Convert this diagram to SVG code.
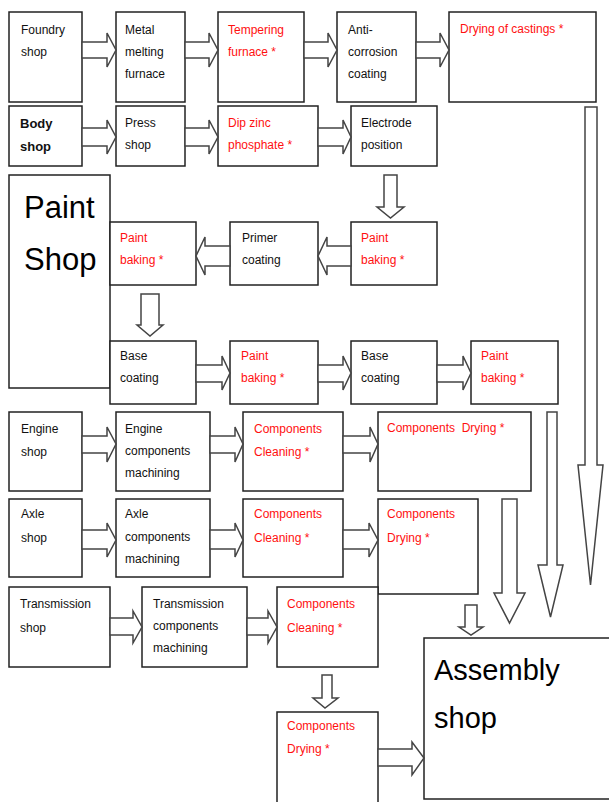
<svg xmlns="http://www.w3.org/2000/svg" width="609" height="802" viewBox="0 0 609 802">
<style>
.b{fill:#fff;stroke:#222;stroke-width:1.5}
.a{fill:#fff;stroke:#444;stroke-width:1.5;stroke-linejoin:miter}
text{font-family:"Liberation Sans",Arial,sans-serif;font-size:12px;fill:#111}
.r{fill:#ff1010}
.bd{font-weight:bold;font-size:13px}
.big{font-size:31px;fill:#000}
.big2{font-size:29px;fill:#000}
</style>
<rect width="609" height="802" fill="#fff"/>
<g id="foundry"><rect class="b" x="9" y="12" width="73" height="90"/><text x="21" y="34">Foundry</text><text x="21" y="56">shop</text></g>
<g id="metal"><rect class="b" x="116" y="12" width="69" height="90"/><text x="125" y="34">Metal</text><text x="125" y="56">melting</text><text x="125" y="78">furnace</text></g>
<g id="tempering"><rect class="b" x="218" y="12" width="86" height="90"/><text class="r" x="228" y="34">Tempering</text><text class="r" x="228" y="56">furnace *</text></g>
<g id="anticorrosion"><rect class="b" x="337" y="12" width="79" height="90"/><text x="348" y="34">Anti-</text><text x="348" y="56">corrosion</text><text x="348" y="78">coating</text></g>
<g id="drycast"><rect class="b" x="449" y="12" width="147" height="90"/><text class="r" x="460" y="33">Drying of castings  *</text></g>
<g id="body"><rect class="b" x="9" y="106" width="73" height="60"/><text class="bd" x="20" y="128">Body</text><text class="bd" x="20" y="151">shop</text></g>
<g id="press"><rect class="b" x="116" y="106" width="69" height="60"/><text x="125" y="127">Press</text><text x="125" y="149">shop</text></g>
<g id="dipzinc"><rect class="b" x="218" y="106" width="100" height="60"/><text class="r" x="228" y="127">Dip zinc</text><text class="r" x="228" y="149">phosphate  *</text></g>
<g id="electrode"><rect class="b" x="351" y="106" width="86" height="60"/><text x="361" y="127">Electrode</text><text x="361" y="149">position</text></g>
<g id="paintshop"><rect class="b" x="9" y="175" width="101" height="213"/><text class="big" x="24" y="218">Paint</text><text class="big" x="24" y="270">Shop</text></g>
<g id="paintbake1"><rect class="b" x="110" y="222" width="86" height="63"/><text class="r" x="120" y="242">Paint</text><text class="r" x="120" y="264">baking *</text></g>
<g id="primer"><rect class="b" x="230" y="222" width="88" height="63"/><text x="242" y="242">Primer</text><text x="242" y="264">coating</text></g>
<g id="paintbake2"><rect class="b" x="351" y="222" width="86" height="63"/><text class="r" x="361" y="242">Paint</text><text class="r" x="361" y="264">baking *</text></g>
<g id="base1"><rect class="b" x="110" y="341" width="86" height="63"/><text x="120" y="360">Base</text><text x="120" y="382">coating</text></g>
<g id="paintbake3"><rect class="b" x="230" y="341" width="88" height="63"/><text class="r" x="241" y="360">Paint</text><text class="r" x="241" y="382">baking *</text></g>
<g id="base2"><rect class="b" x="351" y="341" width="86" height="63"/><text x="361" y="360">Base</text><text x="361" y="382">coating</text></g>
<g id="paintbake4"><rect class="b" x="471" y="341" width="87" height="63"/><text class="r" x="481" y="360">Paint</text><text class="r" x="481" y="382">baking *</text></g>
<g id="engine"><rect class="b" x="9" y="412" width="73" height="79"/><text x="21" y="433">Engine</text><text x="21" y="456">shop</text></g>
<g id="enginemach"><rect class="b" x="116" y="412" width="94" height="79"/><text x="125" y="433">Engine</text><text x="125" y="455">components</text><text x="125" y="477">machining</text></g>
<g id="engineclean"><rect class="b" x="243" y="412" width="100" height="79"/><text class="r" x="254" y="433">Components</text><text class="r" x="254" y="456">Cleaning  *</text></g>
<g id="enginedry"><rect class="b" x="378" y="412" width="153" height="79"/><text class="r" x="387" y="432" xml:space="preserve">Components  Drying *</text></g>
<g id="axle"><rect class="b" x="9" y="499" width="73" height="78"/><text x="21" y="518">Axle</text><text x="21" y="542">shop</text></g>
<g id="axlemach"><rect class="b" x="116" y="499" width="94" height="78"/><text x="125" y="518">Axle</text><text x="125" y="541">components</text><text x="125" y="563">machining</text></g>
<g id="axleclean"><rect class="b" x="243" y="499" width="100" height="78"/><text class="r" x="254" y="518">Components</text><text class="r" x="254" y="542">Cleaning  *</text></g>
<g id="axledry"><rect class="b" x="378" y="499" width="100" height="95"/><text class="r" x="387" y="518">Components</text><text class="r" x="387" y="542">Drying *</text></g>
<g id="trans"><rect class="b" x="9" y="587" width="101" height="80"/><text x="20" y="608">Transmission</text><text x="20" y="632">shop</text></g>
<g id="transmach"><rect class="b" x="142" y="587" width="105" height="80"/><text x="153" y="608">Transmission</text><text x="153" y="630">components</text><text x="153" y="652">machining</text></g>
<g id="transclean"><rect class="b" x="277" y="587" width="101" height="80"/><text class="r" x="287" y="608">Components</text><text class="r" x="287" y="632">Cleaning  *</text></g>
<g id="transdry"><rect class="b" x="277" y="712" width="101" height="96"/><text class="r" x="287" y="730">Components</text><text class="r" x="287" y="753">Drying *</text></g>
<g id="assembly"><rect class="b" x="424" y="638" width="200" height="161"/><text class="big2" x="434" y="680">Assembly</text><text class="big2" x="434" y="728">shop</text></g>
<g id="connectors">
<polygon class="a" points="82,42 107,42 107,33 116,50 107,67 107,58 82,58"/>
<polygon class="a" points="185,42 209,42 209,33 218,50 209,67 209,58 185,58"/>
<polygon class="a" points="304,42 328,42 328,33 337,50 328,67 328,58 304,58"/>
<polygon class="a" points="416,42 440,42 440,33 449,50 440,67 440,58 416,58"/>
<polygon class="a" points="82,128 107,128 107,120 116,137 107,154 107,146 82,146"/>
<polygon class="a" points="185,128 209,128 209,120 218,137 209,154 209,146 185,146"/>
<polygon class="a" points="318,128 343,128 343,120 351,137 343,154 343,146 318,146"/>
<polygon class="a" points="384,175 397,175 397,207 404,207 390.5,218 377,207 384,207"/>
<polygon class="a" points="351,246 327,246 327,237 318,256 327,275 327,266 351,266"/>
<polygon class="a" points="230,246 205,246 205,237 196,256 205,275 205,266 230,266"/>
<polygon class="a" points="141,294 159,294 159,325 163,325 150,336 137,325 141,325"/>
<polygon class="a" points="196,365 222,365 222,356 230,373 222,390 222,382 196,382"/>
<polygon class="a" points="318,365 343,365 343,356 351,373 343,390 343,382 318,382"/>
<polygon class="a" points="437,365 463,365 463,356 471,373 463,390 463,382 437,382"/>
<polygon class="a" points="82,436 107,436 107,427 116,444 107,462 107,453 82,453"/>
<polygon class="a" points="210,436 235,436 235,427 243,444 235,462 235,453 210,453"/>
<polygon class="a" points="343,436 370,436 370,427 378,444 370,462 370,453 343,453"/>
<polygon class="a" points="82,530 107,530 107,523 116,540 107,557 107,549 82,549"/>
<polygon class="a" points="210,530 235,530 235,523 243,540 235,557 235,549 210,549"/>
<polygon class="a" points="343,530 369,530 369,523 378,540 369,557 369,549 343,549"/>
<polygon class="a" points="110,618 133,618 133,611 142,627 133,643 133,635 110,635"/>
<polygon class="a" points="247,618 268,618 268,611 277,627 268,643 268,635 247,635"/>
<polygon class="a" points="322,675 332,675 332,698 338,698 325,708 313,698 322,698"/>
<polygon class="a" points="378,749 412,749 412,742 424,758 412,775 412,766 378,766"/>
<polygon class="a" points="585,107 597,107 597,465 603,465 590.5,585 578,465 585,465"/>
<polygon class="a" points="547,412 557,412 557,565 563,565 550.5,617 538,565 547,565"/>
<polygon class="a" points="502,499 517,499 517,593 525,593 509.5,623 494,593 502,593"/>
<polygon class="a" points="465,605 477,605 477,627 483,627 471,635 459,627 465,627"/>
</g>
</svg>
